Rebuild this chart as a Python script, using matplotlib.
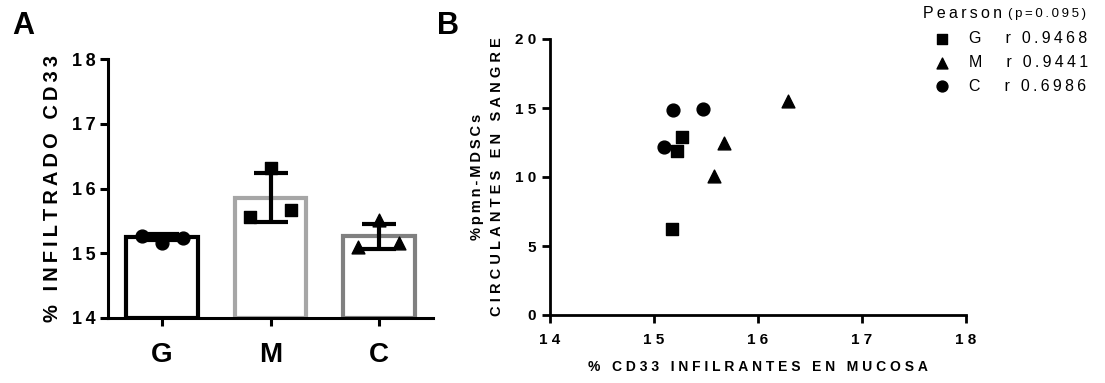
import matplotlib
matplotlib.use("Agg")
import matplotlib.pyplot as plt
import numpy as np

plt.rcParams['font.family'] = ['Liberation Sans', 'DejaVu Sans']

# ---------------- data ----------------
groups = ["G", "M", "C"]
# panel A: individual points (left, middle, right), bar means and SD
a_G = [15.27, 15.16, 15.24]
a_M = [15.56, 16.32, 15.67]
a_C = [15.10, 15.51, 15.16]
bar_means = [15.25, 15.86, 15.26]
bar_sd = [0.05, 0.385, 0.19]

# panel B: scatter
G_x = [15.17, 15.22, 15.27]
G_y = [6.2, 11.9, 12.9]
M_x = [15.58, 15.67, 16.29]
M_y = [10.1, 12.5, 15.5]
C_x = [15.10, 15.18, 15.47]
C_y = [12.2, 14.85, 14.95]
pearson_r = ["0.9468", "0.9441", "0.6986"]
p_value = "0.095"

yticksA = [14, 15, 16, 17, 18]
xticksB = [14, 15, 16, 17, 18]
yticksB = [0, 5, 10, 15, 20]


def sp(s, gap='\u2009'):
    return gap.join(list(s))


W, H = 1105, 383
fig = plt.figure(figsize=(W / 100, H / 100), dpi=100)

# ---------------- panel A ----------------
axA = fig.add_axes([108 / W, 1 - 318 / H, (433 - 108) / W, (318 - 59) / H])
edge_cols = ["#000000", "#a6a6a6", "#808080"]
xpos = np.arange(len(groups))
axA.bar(xpos, [m - 14 for m in bar_means], bottom=14, width=0.66,
        facecolor="white", edgecolor=edge_cols, linewidth=3.0, zorder=2)
axA.errorbar(xpos, bar_means, yerr=bar_sd, fmt='none', ecolor='black',
             elinewidth=3, capsize=12, capthick=3, zorder=3)
offs = np.linspace(-0.19, 0.19, 3)
mk = dict(color='black', s=85, zorder=4, clip_on=False)
axA.scatter(0 + offs, a_G, marker='o', **mk)
axA.scatter(1 + offs, a_M, marker='s', **mk)
axA.scatter(2 + offs, a_C, marker='^', **mk)
axA.set_xlim(-0.5, 2.5)
axA.set_ylim(14, 18)
axA.set_yticks(yticksA)
axA.set_yticklabels([sp(str(v)) for v in yticksA], fontsize=13, fontweight='bold')
axA.set_xticks(xpos)
axA.set_xticklabels(groups, fontsize=20, fontweight='bold')
for s in ['top', 'right']:
    axA.spines[s].set_visible(False)
for s in ['left', 'bottom']:
    axA.spines[s].set_linewidth(2.2)
axA.tick_params(axis='both', width=2.2, length=6)
axA.tick_params(axis='x', pad=11)
axA.tick_params(axis='y', pad=3)
axA.set_ylabel(sp("% INFILTRADO CD33"), fontsize=14.5, fontweight='bold', labelpad=7)
fig.text(12 / W, 1 - 26 / H, "A", fontsize=22, fontweight='bold', va='center', ha='left')

# ---------------- panel B ----------------
axB = fig.add_axes([550 / W, 1 - 315 / H, (966 - 550) / W, (315 - 39) / H])
mkb = dict(color='black', s=85, zorder=4)
hG = axB.scatter(G_x, G_y, marker='s', **mkb)
hM = axB.scatter(M_x, M_y, marker='^', **mkb)
hC = axB.scatter(C_x, C_y, marker='o', **mkb)
axB.set_xlim(14, 18)
axB.set_ylim(0, 20)
axB.set_xticks(xticksB)
axB.set_xticklabels([sp(str(v), '\u2009\u200a') for v in xticksB], fontsize=11, fontweight='bold')
axB.set_yticks(yticksB)
axB.set_yticklabels([sp(str(v), '\u2009\u200a') for v in yticksB], fontsize=11, fontweight='bold')
for s in ['top', 'right']:
    axB.spines[s].set_visible(False)
for s in ['left', 'bottom']:
    axB.spines[s].set_linewidth(2.0)
axB.tick_params(axis='both', width=2.0, length=6)
axB.tick_params(axis='x', pad=7)
axB.tick_params(axis='y', pad=4)
axB.set_xlabel(sp("% CD33 INFILRANTES EN MUCOSA", '\u2009\u200a'), fontsize=10,
               fontweight='bold', labelpad=9)
axB.set_ylabel(sp("%pmn-MDSCs") + "\n" + sp("CIRCULANTES EN SANGRE", '\u2009\u200a'),
               fontsize=10.5, fontweight='bold', labelpad=8, linespacing=1.55)
fig.text(437 / W, 1 - 26 / H, "B", fontsize=22, fontweight='bold', va='center', ha='left')

# legend
t1 = fig.text(923 / W, 1 - 13 / H, sp("Pearson"), fontsize=11.5, va='center', ha='left')
axB.annotate(sp("(p=" + p_value + ")"), xy=(1, 0), xycoords=t1, xytext=(4, 0),
             textcoords='offset points', fontsize=9.5,
             va='bottom', ha='left', annotation_clip=False)
labels = [sp(g) + "\u2003\u2002" + sp("r " + r) for g, r in zip(groups, pearson_r)]
leg = fig.legend([hG, hM, hC], labels, loc='upper left',
                 bbox_to_anchor=(926 / W, 1 - 31 / H), frameon=False,
                 fontsize=11.5, handletextpad=0.7, labelspacing=0.55,
                 borderaxespad=0, borderpad=0, markerscale=0.85)

fig.savefig("out.png", dpi=100)
